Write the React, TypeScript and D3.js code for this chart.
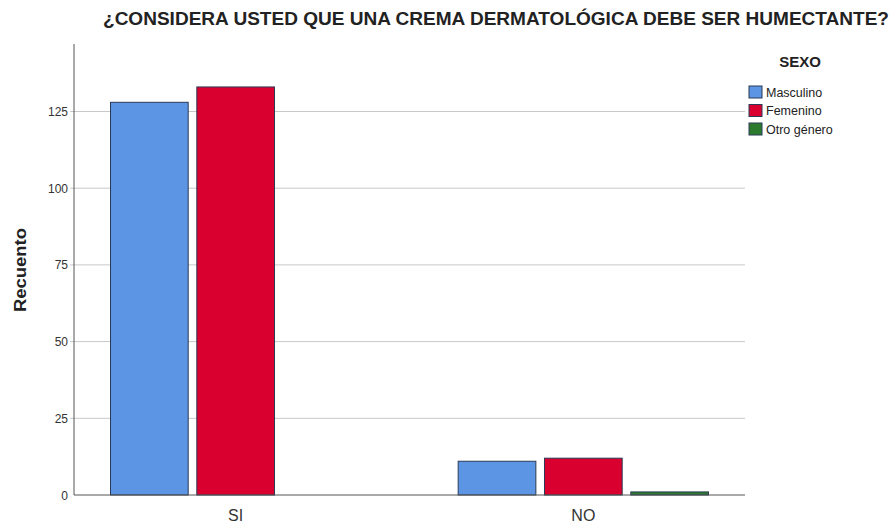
import React, { useEffect, useRef } from "react";
import * as d3 from "d3";

const categories = ["SI", "NO"];
const groups = ["Masculino", "Femenino", "Otro género"];
const masculino = [128, 11];
const femenino = [133, 12];
const otro = [0, 1];
const yTicks = [0, 25, 50, 75, 100, 125];
const colors = ["#5b95e3", "#d9002f", "#2b7a2e"];

const App = () => {
  const svgRef = useRef<SVGSVGElement>(null);

  useEffect(() => {
    const w = 893;
    const h = 528;
    const left = 74;
    const right = 745;
    const top = 44;
    const bottom = 495;
    const font = "Arial, Liberation Sans, sans-serif";
    const svg = d3.select(svgRef.current).attr("width", w).attr("height", h);
    svg.selectAll("*").remove();

    const series = [masculino, femenino, otro];
    const rows = categories.map((c, i) => ({ cat: c, vals: series.map((s) => s[i]) }));

    const x0 = d3.scaleBand().domain(categories).range([left, right]).paddingInner(0.28).paddingOuter(0.105);
    const x1 = d3.scaleBand().domain(groups).range([0, x0.bandwidth()]).paddingInner(0.1);
    const y = d3.scaleLinear().domain([0, 147]).range([bottom, top]);

    // grid lines
    svg
      .append("g")
      .selectAll("line")
      .data(yTicks.filter((t) => t > 0))
      .join("line")
      .attr("x1", left - 4)
      .attr("x2", right)
      .attr("y1", (d) => y(d))
      .attr("y2", (d) => y(d))
      .attr("stroke", "#c8c8c8")
      .attr("stroke-width", 1);

    // tick labels
    svg
      .append("g")
      .selectAll("text")
      .data(yTicks)
      .join("text")
      .attr("x", 68)
      .attr("y", (d) => y(d) + 4.5)
      .attr("text-anchor", "end")
      .attr("font-family", font)
      .attr("font-size", 12)
      .attr("fill", "#333")
      .text((d) => d);

    // bars
    const g = svg
      .append("g")
      .selectAll("g")
      .data(rows)
      .join("g")
      .attr("transform", (d) => `translate(${x0(d.cat)},0)`);
    g.selectAll("rect")
      .data((d) => d.vals.map((v, i) => ({ key: groups[i], v, i })).filter((d) => d.v > 0))
      .join("rect")
      .attr("x", (d) => x1(d.key)!)
      .attr("y", (d) => y(d.v))
      .attr("width", x1.bandwidth())
      .attr("height", (d) => bottom - y(d.v))
      .attr("fill", (d) => colors[d.i])
      .attr("stroke", "#2b3a55")
      .attr("stroke-width", 1);

    // axes lines
    svg.append("line").attr("x1", left).attr("x2", left).attr("y1", top).attr("y2", bottom).attr("stroke", "#555");
    svg.append("line").attr("x1", left).attr("x2", right).attr("y1", bottom).attr("y2", bottom).attr("stroke", "#555");

    // x labels
    svg
      .append("g")
      .selectAll("text")
      .data(categories)
      .join("text")
      .attr("x", (d) => x0(d)! + x0.bandwidth() / 2)
      .attr("y", 521)
      .attr("text-anchor", "middle")
      .attr("font-family", font)
      .attr("font-size", 16)
      .attr("fill", "#333")
      .text((d) => d);

    // y title
    svg
      .append("text")
      .attr("transform", `translate(26,270) rotate(-90)`)
      .attr("text-anchor", "middle")
      .attr("textLength", 84)
      .attr("lengthAdjust", "spacingAndGlyphs")
      .attr("font-family", font)
      .attr("font-size", 16)
      .attr("font-weight", "bold")
      .attr("fill", "#222")
      .text("Recuento");

    // title
    svg
      .append("text")
      .attr("x", 103)
      .attr("y", 25)
      .attr("textLength", 786)
      .attr("lengthAdjust", "spacingAndGlyphs")
      .attr("font-family", "Liberation Sans Narrow, Arial, Liberation Sans, sans-serif")
      .attr("font-size", 18)
      .attr("font-weight", "bold")
      .attr("fill", "#222")
      .text("¿CONSIDERA USTED QUE UNA CREMA DERMATOLÓGICA DEBE SER HUMECTANTE?");

    // legend
    svg
      .append("text")
      .attr("x", 800)
      .attr("y", 67)
      .attr("text-anchor", "middle")
      .attr("font-family", font)
      .attr("font-size", 15)
      .attr("font-weight", "bold")
      .attr("fill", "#222")
      .text("SEXO");
    const lg = svg
      .append("g")
      .selectAll("g")
      .data(groups)
      .join("g")
      .attr("transform", (d, i) => `translate(749,${86 + i * 18.5})`);
    lg.append("rect")
      .attr("width", 13)
      .attr("height", 12)
      .attr("fill", (d, i) => colors[i])
      .attr("stroke", "#2b3a55");
    lg.append("text")
      .attr("x", 17)
      .attr("y", 10.5)
      .attr("font-family", font)
      .attr("font-size", 12.5)
      .attr("fill", "#222")
      .text((d) => d);
  }, []);

  return (
    <div style={{ position: "absolute", left: 0, top: 0, background: "#fff" }}>
      <svg ref={svgRef} style={{ display: "block" }}></svg>
    </div>
  );
};

export default App;
